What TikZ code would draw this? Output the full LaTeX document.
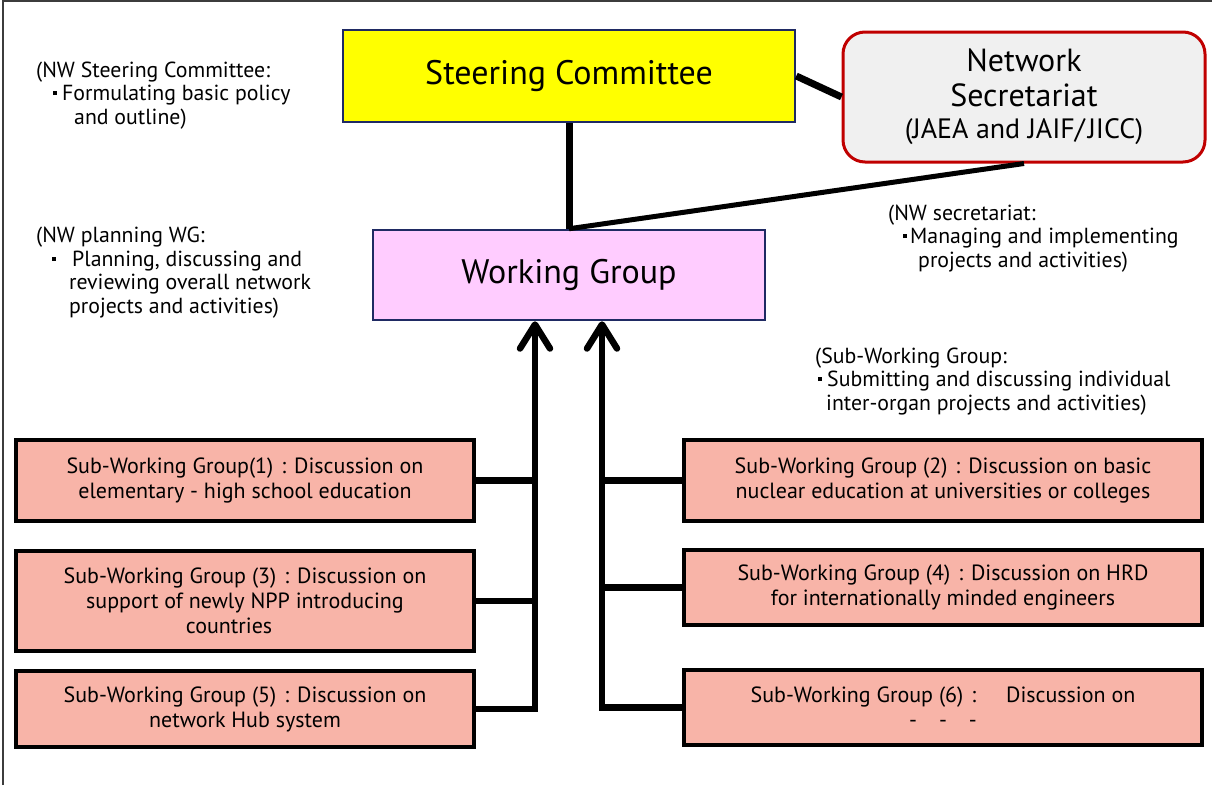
\documentclass[tikz,border=0pt]{standalone}
\usepackage{fontspec}
\setmainfont{PT Sans}
\usetikzlibrary{arrows.meta}

\definecolor{navy}{RGB}{31,42,99}
\definecolor{scyellow}{RGB}{255,255,0}
\definecolor{wgpink}{RGB}{255,204,255}
\definecolor{secred}{RGB}{192,0,0}
\definecolor{secfill}{RGB}{240,240,240}
\definecolor{salmon}{RGB}{248,180,168}
\definecolor{framegray}{RGB}{60,60,60}

% square bullet and spaced colon used in the labels
\newcommand{\tdot}{\makebox[14pt]{\rule[5.5pt]{4pt}{4pt}}}
\newcommand{\jcol}{\kern8pt:\kern8pt}

\begin{document}
\begin{tikzpicture}[x=1pt,y=-1pt,
  titlebox/.style={draw=navy, line width=2.5pt, inner sep=0pt, align=center,
                   font=\fontsize{34}{38}\selectfont},
  swg/.style={draw=black, line width=4pt, fill=salmon, inner sep=0pt, align=center,
              font=\fontsize{22}{25}\selectfont},
  note/.style={anchor=base west, inner sep=0pt, align=left,
               font=\fontsize{21.8}{23.5}\selectfont},
  link/.style={line width=7pt},
  feed/.style={line width=6.5pt},
  up/.style={feed, -{Straight Barb[length=24pt,width=30pt,round]}}
]
\useasboundingbox (0,0) rectangle (1212,785);

% outer frame (top and left edges)
\draw[framegray, line width=2pt] (3,785) -- (3,1) -- (1212,1);

% main bodies
\node[titlebox, fill=scyellow, minimum width=452pt, minimum height=92pt] (sc) at (569,76)
  {Steering Committee};
\node[draw=secred, line width=3pt, fill=secfill, rounded corners=22pt, inner sep=0pt,
      minimum width=362pt, minimum height=130pt, align=center,
      font=\fontsize{32}{35}\selectfont] (ns) at (1024,97)
  {Network\\ Secretariat\\[-3pt]
   {\fontsize{28}{33}\selectfont (JAEA and JAIF/\kern3pt JICC)}};
\node[titlebox, fill=wgpink, minimum width=392pt, minimum height=90pt] (wg) at (569,275)
  {Working Group};

% sub-working groups
\node[swg, minimum width=458pt, minimum height=81pt] (sw1) at (245,480.5)
  {Sub-Working Group(1)\jcol Discussion on\\ elementary - high school education};
\node[swg, minimum width=458pt, minimum height=100pt] (sw3) at (245,601)
  {Sub-Working Group (3)\jcol Discussion on\\ support of newly NPP introducing\hspace*{32pt}\\ countries\hspace*{32pt}};
\node[swg, minimum width=458pt, minimum height=76pt] (sw5) at (245,709)
  {Sub-Working Group (5)\jcol Discussion on\\ network Hub system};
\node[swg, minimum width=518pt, minimum height=81pt] (sw2) at (943,480.5)
  {Sub-Working Group (2)\jcol Discussion on basic\\ nuclear education at universities or colleges};
\node[swg, minimum width=518pt, minimum height=75pt] (sw4) at (943,587.5)
  {Sub-Working Group (4)\jcol Discussion on HRD\\ for internationally minded engineers};
\node[swg, minimum width=518pt, minimum height=75pt] (sw6) at (943,707.5)
  {Sub-Working Group (6)\jcol\kern22pt Discussion on\\ -\kern22pt-\kern22pt-};

% annotations (anchored at the baseline of their last line)
\node[note] (nsc) at (36,124)
  {(NW Steering Committee:\\ \hspace*{12pt}\tdot Formulating basic policy\\ \hspace*{38pt}and outline)};
\node[note] (nwg) at (36,313)
  {(NW planning WG:\\ \hspace*{11pt}\tdot\kern11pt Planning, discussing and\\ \hspace*{33pt}reviewing overall network\\ \hspace*{33pt}projects and activities)};
\node[note] (nsec) at (888,267)
  {(NW secretariat:\\ \hspace*{10pt}\tdot\kern-2pt Managing and implementing\\ \hspace*{30pt}projects and activities)};
\node[note] (nsub) at (815,410)
  {(Sub-Working Group:\\ \hspace*{-2pt}\tdot Submitting and discussing individual\\ \hspace*{11pt}inter-organ projects and activities)};

% connectors between bodies
\draw[link] (sc.south) -- (wg.north);
\draw[link] (sc.east) -- (ns.west);
\draw[line width=5pt] (wg.north) -- (ns.south);

% reporting lines into the working group
\coordinate (inL) at ([xshift=-34pt]wg.south);
\coordinate (inR) at ([xshift=33pt]wg.south);
\draw[up] (sw5.east) -| (inL);
\draw[feed] (sw1.east) -- (sw1.east -| inL);
\draw[feed] (sw3.east) -- (sw3.east -| inL);
\draw[up] (sw6.west) -| (inR);
\draw[feed] (sw2.west) -- (sw2.west -| inR);
\draw[feed] (sw4.west) -- (sw4.west -| inR);
\end{tikzpicture}
\end{document}
